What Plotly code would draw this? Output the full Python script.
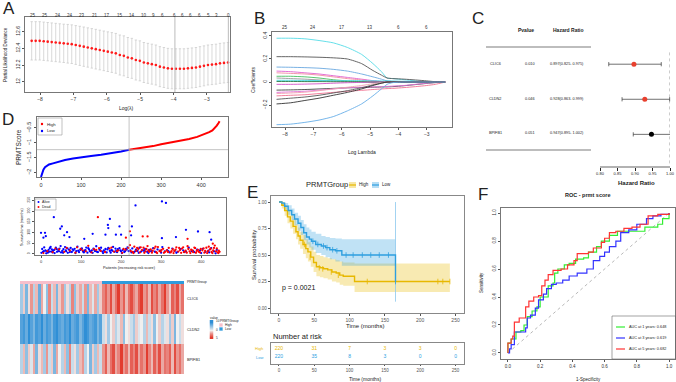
import plotly.graph_objects as go

# ======================= DATA =======================
# ---- A: cross-validation curve ----
cv_loglambda = [-8.25,-8.13,-8.01,-7.89,-7.77,-7.65,-7.53,-7.41,-7.29,-7.17,-7.05,-6.93,-6.81,-6.69,-6.57,
                -6.45,-6.33,-6.21,-6.09,-5.97,-5.85,-5.73,-5.61,-5.49,-5.37,-5.25,-5.13,-5.01,-4.89,-4.77,
                -4.65,-4.53,-4.41,-4.29,-4.17,-4.05,-3.93,-3.81,-3.69,-3.57,-3.45,-3.33,-3.21,-3.09,-2.97,
                -2.85,-2.73,-2.61,-2.49,-2.37]
cv_deviance = [12.49,12.49,12.49,12.485,12.48,12.475,12.47,12.465,12.46,12.455,12.45,12.44,12.43,12.42,12.41,
               12.40,12.39,12.38,12.37,12.36,12.35,12.34,12.32,12.31,12.29,12.28,12.26,12.25,12.23,12.22,
               12.21,12.20,12.18,12.17,12.16,12.155,12.155,12.155,12.155,12.16,12.165,12.17,12.18,12.19,12.20,
               12.205,12.21,12.22,12.225,12.23]
cv_se = [0.23,0.23,0.23,0.23,0.23,0.23,0.23,0.23,0.23,0.232,0.232,0.233,0.235,0.236,0.236,
         0.237,0.238,0.238,0.238,0.238,0.239,0.239,0.24,0.24,0.24,0.24,0.24,0.24,0.24,0.24,
         0.24,0.24,0.24,0.24,0.24,0.24,0.24,0.24,0.24,0.24,0.24,0.24,0.24,0.24,0.24,
         0.24,0.24,0.24,0.24,0.24]
cv_top_pos = [-8.22,-7.85,-7.47,-7.10,-6.73,-6.36,-5.98,-5.60,-5.24,-4.88,-4.61,-4.33,-3.96,-3.73,-3.49,-3.23,-2.96,-2.71,-2.36]
cv_top_count = ["25","25","24","24","23","21","17","15","14","10","9","6","6","6","6","6","5","3","0"]
cv_lambda_min = -3.96
cv_lambda_1se = -2.36

# ---- B: coefficient paths ----
path_loglambda = [-8.3,-7.8,-7.3,-6.8,-6.3,-5.8,-5.3,-4.9,-4.6,-4.4,-4.2,-3.8,-3.4,-3.0,-2.7,-2.35]
path_cyan_top   = [0.38,0.38,0.375,0.36,0.34,0.30,0.24,0.16,0.09,0.035,0.03,0.02,0.01,0.0,0.0,0.0]
path_black_top  = [0.22,0.22,0.218,0.215,0.21,0.20,0.16,0.10,0.06,0.035,0.03,0.025,0.018,0.01,0.003,0.0]
path_blue_top   = [0.13,0.128,0.125,0.12,0.11,0.095,0.07,0.045,0.025,0.01,0.005,0.0,0.0,0.0,0.0,0.0]
path_magenta1   = [0.095,0.09,0.08,0.07,0.055,0.04,0.025,0.012,0.004,0.0,0.0,0.0,0.0,0.0,0.0,0.0]
path_pink1      = [0.08,0.075,0.07,0.06,0.045,0.03,0.018,0.008,0.002,0.0,0.0,0.0,0.0,0.0,0.0,0.0]
path_green      = [0.05,0.05,0.045,0.035,0.02,0.01,0.004,0.0,0.0,0.0,0.0,0.0,0.0,0.0,0.0,0.0]
path_gray1      = [0.035,0.03,0.025,0.018,0.01,0.005,0.001,0.0,0.0,0.0,0.0,0.0,0.0,0.0,0.0,0.0]
path_cyan2      = [0.015,0.015,0.014,0.013,0.012,0.012,0.012,0.011,0.01,0.01,0.009,0.006,0.004,0.002,0.0,0.0]
path_dkgreen    = [0.005,0.005,0.004,0.004,0.003,0.002,0.001,0.0,0.0,0.0,0.0,0.0,0.0,0.0,0.0,0.0]
path_magenta2   = [-0.02,-0.02,-0.018,-0.015,-0.01,-0.006,-0.003,0.0,0.0,0.0,0.0,0.0,0.0,0.0,0.0,0.0]
path_black2     = [-0.07,-0.068,-0.065,-0.06,-0.055,-0.05,-0.048,-0.045,-0.043,-0.042,-0.04,-0.032,-0.022,-0.012,-0.005,0.0]
path_magenta3   = [-0.09,-0.085,-0.08,-0.07,-0.06,-0.05,-0.045,-0.042,-0.04,-0.038,-0.035,-0.03,-0.02,-0.01,-0.004,0.0]
path_pink2      = [-0.12,-0.115,-0.11,-0.10,-0.09,-0.08,-0.072,-0.065,-0.06,-0.057,-0.055,-0.048,-0.04,-0.03,-0.02,0.0]
path_pink3      = [-0.10,-0.095,-0.088,-0.075,-0.06,-0.045,-0.03,-0.015,-0.005,0.0,0.0,0.0,0.0,0.0,0.0,0.0]
path_black3     = [-0.15,-0.14,-0.13,-0.115,-0.095,-0.075,-0.05,-0.025,-0.01,0.0,0.0,0.0,0.0,0.0,0.0,0.0]
path_black4     = [-0.19,-0.18,-0.16,-0.14,-0.115,-0.09,-0.06,-0.03,-0.01,0.0,0.0,0.0,0.0,0.0,0.0,0.0]
path_blue_bot   = [-0.37,-0.365,-0.35,-0.33,-0.30,-0.25,-0.19,-0.12,-0.06,-0.02,-0.005,0.0,0.0,0.0,0.0,0.0]
path_top_pos = [-8, -7, -6, -5, -4, -3]
path_top_count = ["25", "24", "17", "13", "6", "6"]

# ---- C: forest plot ----
genes = ["CLIC6", "CLDN2", "BPIFB1"]
gene_pvalue = ["0.010", "0.046", "0.051"]
gene_hr = [0.897, 0.928, 0.947]
gene_hr_low = [0.825, 0.863, 0.895]
gene_hr_high = [0.975, 0.999, 1.002]

# ---- D: risk score curve ----
risk_idx = [0,3,6,10,15,20,30,40,50,60,80,100,125,150,175,200,220,250,280,300,330,350,370,390,400,410,420,428,434,439,443,446]
risk_score = [-2.15,-2.0,-1.9,-1.82,-1.77,-1.73,-1.69,-1.65,-1.62,-1.58,-1.53,-1.48,-1.44,-1.4,-1.35,-1.29,-1.23,
              -1.18,-1.11,-1.05,-0.98,-0.93,-0.87,-0.80,-0.75,-0.70,-0.64,-0.58,-0.50,-0.42,-0.34,-0.27]
risk_cut_idx = 220
risk_cut_score = -1.23

# ---- D: survival status scatter (patient index, months) ----
alive_pts = [(3,22),(5,8),(8,30),(11,15),(14,12),(17,5),(19,18),(22,26),(25,10),(27,20),
    (30,14),(34,3),(37,28),(40,9),(43,17),(46,24),(50,6),(53,13),(56,21),(60,31),
    (63,11),(67,4),(70,19),(74,27),(77,8),(81,16),(84,23),(88,12),(91,33),(95,7),
    (98,18),(102,25),(105,10),(109,14),(113,29),(116,5),(120,20),(124,9),(127,16),(131,24),
    (135,12),(138,35),(142,7),(146,19),(150,28),(153,10),(157,15),(161,22),(164,6),(168,27),
    (172,13),(176,18),(180,32),(184,9),(188,14),(192,21),(196,26),(200,11),(204,17),(208,8),
    (212,23),(216,30),(219,12),(223,16),(228,25),(232,7),(237,19),(241,13),(246,28),(250,10),
    (255,15),(260,22),(265,9),(270,18),(275,12),(280,26),(286,8),(291,20),(297,14),(303,31),
    (309,11),(315,17),(321,6),(328,24),(334,13),(341,9),(348,21),(355,16),(362,10),(369,28),
    (376,12),(383,7),(390,19),(397,15),(404,23),(411,9),(418,14),(425,26),(432,11),(439,18),
    (1,4),(7,12),(13,2),(20,9),(24,32),(29,6),(33,18),(39,22),(45,11),(49,36),(55,4),(62,15),
    (66,25),(72,8),(79,20),(86,3),(93,14),(100,21),(107,6),(111,17),(118,26),(122,12),(129,4),
    (133,19),(140,9),(148,15),(155,3),(159,11),(166,20),(174,5),(178,14),(186,24),(190,7),
    (198,16),(202,3),(210,12),(214,19),(226,6),(235,11),(244,4),(258,14),(268,3),(284,10),
    (300,5),(318,12),(338,4),(358,8),(380,13),(400,3),(420,6),(436,2),
    (0,98),(10,98),(6,75),(12,82),(32,171),(48,117),(52,128),(58,86),(65,101),(71,78),
    (108,70),(129,93),(168,120),(172,163),(167,135),(161,89),(196,128),(187,89),(200,89),
    (227,128),(225,86),(236,226),(302,245),(312,238),(362,112),(392,104),(421,101),(425,66),
    (302,73),(337,78)]
dead_pts = [(6,3),(16,12),(29,7),(45,20),(58,9),(72,15),(86,5),(99,22),(112,11),(126,6),
    (138,18),(149,13),(160,8),(171,24),(182,10),(193,16),(203,4),(211,19),(218,27),(224,12),
    (229,8),(233,33),(238,14),(243,22),(247,6),(252,17),(256,28),(261,11),(266,36),(270,9),
    (274,20),(279,14),(283,25),(288,7),(292,31),(296,12),(301,18),(305,23),(310,9),(314,15),
    (319,27),(324,6),(329,21),(333,13),(338,30),(343,10),(347,17),(352,24),(357,8),(361,14),
    (366,35),(371,11),(375,19),(380,7),(385,26),(389,13),(394,9),(399,22),(403,16),(408,5),
    (413,28),(417,12),(422,20),(426,8),(430,15),(434,38),(437,11),(441,6),(444,14),
    (36,24),(64,27),(90,30),(104,16),(118,37),(132,21),(145,26),(176,29),(190,12),(206,22),
    (222,40),(231,3),(240,27),(249,30),(258,4),(263,22),(268,15),(277,5),(286,33),(290,3),
    (299,10),(307,4),(317,8),(326,12),(331,3),(336,19),(345,27),(350,4),(355,30),(364,5),
    (368,22),(373,3),(378,15),(383,29),(387,4),(392,18),(397,6),(406,25),(410,13),(415,3),
    (419,33),(424,24),(428,3),(432,27),(439,25),(443,3),(446,9),
    (142,171),(212,75),(254,81),(266,81),(366,70),(429,47),(222,105)]

# ---- D: heatmap (scaled expression; 32 High columns then 32 Low columns) ----
heat_genes = ["CLIC6", "CLDN2", "BPIFB1"]
heat_group = ["High"] * 32 + ["Low"] * 32
heat_clic6 = [-0.4,0.2,-0.6,0.1,0.5,-0.3,0.3,-0.7,0.4,0.0,-0.5,0.6,-0.2,0.3,-0.6,0.2,0.5,-0.4,0.1,-0.3,0.6,-0.5,0.2,0.4,-0.2,0.5,-0.6,0.3,-0.1,0.4,-0.4,0.2,
              0.6,0.8,0.5,0.9,0.4,0.7,1.0,0.5,0.8,0.3,0.7,0.9,0.6,0.4,0.8,1.0,0.5,0.7,0.3,0.9,0.6,0.8,0.4,0.7,1.0,0.5,0.2,0.8,0.6,0.9,0.4,0.7]
heat_cldn2 = [-0.8,-0.9,-0.7,-1.0,-0.8,-0.6,-0.9,-0.8,-1.0,-0.7,-0.9,-0.8,-0.6,-0.9,-1.0,-0.8,-0.7,-0.9,-0.8,-1.0,-0.7,-0.8,-0.9,-0.6,-0.8,-1.0,-0.9,-0.7,-0.8,-0.9,-0.6,-0.8,
              -0.2,0.1,-0.4,0.0,0.2,-0.3,-0.1,0.3,-0.5,0.0,0.1,-0.2,-0.4,0.2,-0.1,0.0,-0.3,0.3,-0.2,0.1,-0.5,0.0,0.2,-0.3,-0.1,0.1,-0.4,0.2,-0.6,0.0,-0.2,0.1]
heat_bpifb1 = [-0.3,0.3,-0.5,0.2,-0.1,0.4,-0.6,0.1,0.3,-0.4,0.5,-0.2,0.2,-0.6,0.4,0.0,-0.3,0.3,-0.5,0.6,-0.2,0.1,-0.4,0.3,0.5,-0.3,0.0,-0.6,0.2,-0.4,0.3,-0.2,
               0.5,0.8,0.3,0.7,0.9,0.4,0.6,1.0,0.5,0.7,0.3,0.8,0.6,0.9,0.4,0.7,0.5,1.0,0.6,0.3,0.8,0.5,0.9,0.4,0.7,0.6,0.8,0.3,0.9,0.5,0.7,0.4]

# ---- E: Kaplan-Meier ----
km_high_t = [0,4,8,12,16,20,24,27,30,34,38,41,45,49,53,58,63,69,75,81,86,91,107,242]
km_high_s = [1.0,0.97,0.92,0.86,0.82,0.77,0.72,0.68,0.64,0.6,0.56,0.53,0.48,0.43,0.39,0.38,0.37,0.36,0.34,0.33,0.31,0.30,0.25,0.25]
km_high_up = [1.0,1.0,0.97,0.92,0.88,0.84,0.79,0.76,0.72,0.69,0.65,0.62,0.58,0.53,0.50,0.49,0.48,0.47,0.46,0.45,0.44,0.43,0.42,0.42]
km_high_lo = [1.0,0.94,0.87,0.80,0.75,0.70,0.65,0.60,0.56,0.51,0.47,0.44,0.39,0.34,0.30,0.29,0.28,0.27,0.25,0.24,0.22,0.21,0.15,0.15]
km_low_t = [0,4,8,13,18,22,27,31,35,39,43,46,52,60,66,72,80,89,165]
km_low_s = [1.0,0.99,0.96,0.92,0.88,0.84,0.80,0.76,0.71,0.67,0.65,0.63,0.60,0.585,0.57,0.55,0.54,0.50,0.25]
km_low_up = [1.0,1.0,0.99,0.97,0.94,0.90,0.87,0.83,0.79,0.76,0.74,0.72,0.70,0.68,0.67,0.66,0.655,0.65,0.65]
km_low_lo = [1.0,0.97,0.93,0.88,0.83,0.78,0.73,0.69,0.64,0.60,0.57,0.55,0.52,0.50,0.48,0.46,0.44,0.40,0.40]
cens_high_t = [36, 44, 57, 62, 74, 84, 125, 225, 232, 242]
cens_high_s = [0.60, 0.48, 0.38, 0.37, 0.34, 0.31, 0.25, 0.25, 0.25, 0.25]
cens_low_t = [48, 55, 63, 68, 76, 82, 95, 105, 118, 130, 142, 155, 165]
cens_low_s = [0.63, 0.60, 0.585, 0.57, 0.55, 0.54, 0.50, 0.50, 0.50, 0.50, 0.50, 0.50, 0.25]
km_pvalue = "p = 0.0021"
risk_times = [0, 50, 100, 150, 200, 250]
risk_high = [220, 31, 7, 3, 3, 0]
risk_low = [220, 35, 8, 3, 0, 0]

# ---- F: ROC ----
roc1_fpr = [0,0,0.02,0.05,0.08,0.10,0.12,0.15,0.18,0.20,0.25,0.28,0.29,0.31,0.35,0.38,0.42,0.47,0.50,0.55,0.58,0.63,0.68,0.78,0.85,0.93,0.96,1.0]
roc1_tpr = [0,0.07,0.10,0.15,0.16,0.20,0.26,0.30,0.33,0.40,0.48,0.50,0.57,0.60,0.63,0.64,0.67,0.68,0.72,0.76,0.80,0.84,0.87,0.87,0.90,0.92,0.96,1.0]
roc3_fpr = [0,0.01,0.02,0.04,0.08,0.11,0.12,0.14,0.17,0.19,0.22,0.24,0.27,0.30,0.34,0.38,0.43,0.49,0.53,0.57,0.60,0.63,0.67,0.70,0.75,0.80,0.86,0.90,0.95,1.0]
roc3_tpr = [0,0.03,0.06,0.15,0.15,0.18,0.25,0.27,0.32,0.38,0.42,0.46,0.49,0.50,0.52,0.55,0.57,0.60,0.66,0.69,0.72,0.76,0.80,0.86,0.88,0.92,0.96,0.98,0.99,1.0]
roc5_fpr = [0,0,0.02,0.03,0.04,0.07,0.10,0.11,0.13,0.16,0.19,0.21,0.23,0.25,0.28,0.33,0.37,0.41,0.43,0.50,0.53,0.58,0.60,0.63,0.67,0.72,0.77,0.82,0.87,0.93,1.0]
roc5_tpr = [0,0.07,0.10,0.12,0.22,0.25,0.25,0.33,0.37,0.40,0.41,0.48,0.52,0.56,0.59,0.60,0.63,0.66,0.71,0.72,0.75,0.79,0.82,0.86,0.87,0.89,0.90,0.92,0.98,0.99,1.0]
roc_labels = ["AUC at 1 years: 0.648", "AUC at 3 years: 0.619", "AUC at 5 years: 0.682"]

# ======================= FIGURE =======================
W, H = 676, 382
FONT = "Liberation Sans, Arial, sans-serif"

def xd(a, b): return [a / W, b / W]
def yd(top, bot): return [1 - bot / H, 1 - top / H]
def PX(x): return x / W
def PY(y): return 1 - y / H

def raxis(dom, rng, anchor, tickvals=None, ticktext=None, angle=0, lc="#777", size=5, tc="#333", ticklen=2.5):
    d = dict(domain=dom, range=rng, anchor=anchor, showline=True, mirror=True, linecolor=lc, linewidth=0.8,
             ticks="outside", ticklen=ticklen, tickwidth=0.6, tickcolor="#555", tickvals=tickvals,
             tickangle=angle, tickfont=dict(size=size, color=tc, family=FONT), showgrid=False, zeroline=False,
             automargin=False)
    if ticktext is not None:
        d["ticktext"] = ticktext
    return d

def hidden(dom, rng, anchor):
    return dict(domain=dom, range=rng, anchor=anchor, visible=False, showgrid=False, zeroline=False)

annotations, shapes = [], []
def ann(x, y, text, size=5, color="#222", xa="center", ya="middle", angle=0, bold=False):
    annotations.append(dict(x=PX(x), y=PY(y), xref="paper", yref="paper", text=("<b>%s</b>" % text) if bold else text,
                            showarrow=False, font=dict(size=size, color=color, family=FONT), xanchor=xa, yanchor=ya,
                            textangle=angle, borderpad=0))
def pline(x0, y0, x1, y1, color="#333", width=0.8, dash=None):
    ln = dict(color=color, width=width)
    if dash:
        ln["dash"] = dash
    shapes.append(dict(type="line", xref="paper", yref="paper", x0=PX(x0), y0=PY(y0), x1=PX(x1), y1=PY(y1), line=ln))
def prect(x0, y0, x1, y1, line="#777", fill="rgba(0,0,0,0)", width=0.6):
    shapes.append(dict(type="rect", xref="paper", yref="paper", x0=PX(x0), y0=PY(y1), x1=PX(x1), y1=PY(y0),
                       line=dict(color=line, width=width), fillcolor=fill))
def pdot(x, y, r, color):
    shapes.append(dict(type="circle", xref="paper", yref="paper", x0=PX(x - r), x1=PX(x + r), y0=PY(y + r), y1=PY(y - r),
                       line=dict(width=0), fillcolor=color))

fig = go.Figure()

# ---------- A ----------
fig.add_trace(go.Scatter(x=cv_loglambda, y=cv_deviance, mode="markers", xaxis="x", yaxis="y",
                         marker=dict(color="#ff1a1a", size=2.6),
                         error_y=dict(type="data", array=cv_se, color="#c8c8c8", thickness=0.7, width=1.2)))
for xv in (cv_lambda_min, cv_lambda_1se):
    shapes.append(dict(type="line", xref="x", yref="y domain", x0=xv, x1=xv, y0=0, y1=1, line=dict(color="#bbb", width=1)))
for p, c in zip(cv_top_pos, cv_top_count):
    annotations.append(dict(x=p, y=PY(11), xref="x", yref="paper", text=c, showarrow=False,
                            font=dict(size=4.5, color="#333", family=FONT)))
ann(127, 108, "Log(λ)", 5)
ann(5, 55, "Partial Likelihood Deviance", 4.5, angle=-90)
ann(9, 9, "A", 17)

# ---------- B ----------
path_lines = [
    (path_cyan_top, "#55dbe6"), (path_black_top, "#555555"), (path_blue_top, "#6aa8e0"),
    (path_magenta1, "#e060d0"), (path_pink1, "#f08aa0"), (path_green, "#44c060"), (path_gray1, "#999999"),
    (path_cyan2, "#44d8e0"), (path_dkgreen, "#227744"), (path_magenta2, "#d050c8"), (path_black2, "#444444"),
    (path_magenta3, "#e070d8"), (path_pink2, "#f07090"), (path_pink3, "#f0a0b0"), (path_black3, "#555555"),
    (path_black4, "#333333"), (path_blue_bot, "#66aee8")]
for vals, col in path_lines:
    fig.add_trace(go.Scatter(x=path_loglambda, y=vals, mode="lines", xaxis="x2", yaxis="y2",
                             line=dict(color=col, width=0.9, shape="spline", smoothing=0.6)))
for p, c in zip(path_top_pos, path_top_count):
    annotations.append(dict(x=p, y=PY(23), xref="x2", yref="paper", text=c, showarrow=False,
                            font=dict(size=4.5, color="#333", family=FONT)))
ann(362, 152, "Log Lambda", 5)
ann(253, 80, "Coefficients", 5, angle=-90)
ann(259, 19, "B", 17)

# ---------- C ----------
ann(478, 19, "C", 17)
ann(526, 30, "Pvalue", 5, bold=True)
ann(568, 30, "Hazard Ratio", 5, bold=True)
pline(486, 47, 591, 47, "#444", 0.7)
pline(486, 150, 591, 150, "#444", 0.7)
row_y = [64, 99, 133]
for g, pv, h, lo, hi, yy in zip(genes, gene_pvalue, gene_hr, gene_hr_low, gene_hr_high, row_y):
    ann(495, yy, g, 3.8)
    ann(530, yy, pv, 3.8)
    ann(567, yy, "%.3f(%.3f- %.3f)" % (h, lo, hi), 3.8)
forest_y = [3, 2, 1]
forest_col = ["#e8402e" if float(p) < 0.05 else "#000000" for p in gene_pvalue]
for h, lo, hi, yy, col in zip(gene_hr, gene_hr_low, gene_hr_high, forest_y, forest_col):
    fig.add_trace(go.Scatter(x=[lo, hi], y=[yy, yy], mode="lines", xaxis="x3", yaxis="y3",
                             line=dict(color="#333", width=0.7), cliponaxis=False))
    fig.add_trace(go.Scatter(x=[lo, hi], y=[yy, yy], mode="markers", xaxis="x3", yaxis="y3",
                             marker=dict(symbol="line-ns", size=3, line=dict(color="#333", width=0.7)), cliponaxis=False))
    fig.add_trace(go.Scatter(x=[h], y=[yy], mode="markers", xaxis="x3", yaxis="y3",
                             marker=dict(color=col, size=5), cliponaxis=False))
shapes.append(dict(type="line", xref="x3", yref="y3 domain", x0=1.0, x1=1.0, y0=0.03, y1=0.97,
                   line=dict(color="#555", width=0.6, dash="dot")))
shapes.append(dict(type="line", xref="x3", yref="y3 domain", x0=0.8, x1=1.0, y0=0, y1=0,
                   line=dict(color="#222", width=0.7)))
ann(636, 183, "Hazard Ratio", 6, bold=True)

# ---------- D top: risk score ----------
lo_i = [i for i, v in zip(risk_idx, risk_score) if i <= risk_cut_idx]
lo_v = [v for i, v in zip(risk_idx, risk_score) if i <= risk_cut_idx]
hi_i = [i for i, v in zip(risk_idx, risk_score) if i >= risk_cut_idx]
hi_v = [v for i, v in zip(risk_idx, risk_score) if i >= risk_cut_idx]
fig.add_trace(go.Scatter(x=lo_i, y=lo_v, mode="lines", xaxis="x4", yaxis="y4", line=dict(color="#0000ff", width=2)))
fig.add_trace(go.Scatter(x=hi_i, y=hi_v, mode="lines", xaxis="x4", yaxis="y4", line=dict(color="#ff0000", width=2)))
shapes.append(dict(type="line", xref="x4", yref="y4 domain", x0=risk_cut_idx, x1=risk_cut_idx, y0=0, y1=1,
                   line=dict(color="#aaa", width=0.7)))
shapes.append(dict(type="line", xref="x4 domain", yref="y4", x0=0, x1=1, y0=risk_cut_score, y1=risk_cut_score,
                   line=dict(color="#aaa", width=0.7)))
ann(8, 119, "D", 17)
ann(18, 147, "PRMTScore", 6.5, angle=-90)
prect(38, 118, 62, 135, "#999")
pdot(42, 124, 1.2, "#ff0000"); ann(46, 124, "High", 4.2, xa="left")
pdot(42, 131, 1.2, "#0000ff"); ann(46, 131, "Low", 4.2, xa="left")

# ---------- D middle: status scatter ----------
fig.add_trace(go.Scatter(x=[p[0] for p in alive_pts], y=[p[1] for p in alive_pts], mode="markers",
                         xaxis="x5", yaxis="y5", marker=dict(color="#0000ff", size=2.3)))
fig.add_trace(go.Scatter(x=[p[0] for p in dead_pts], y=[p[1] for p in dead_pts], mode="markers",
                         xaxis="x5", yaxis="y5", marker=dict(color="#ff0000", size=2.3)))
shapes.append(dict(type="line", xref="x5", yref="y5 domain", x0=risk_cut_idx, x1=risk_cut_idx, y0=0, y1=1,
                   line=dict(color="#aaa", width=0.7)))
prect(35, 199, 56, 210, "#999")
pdot(38.5, 202, 1, "#0000ff"); ann(41, 202, "Alive", 3.6, xa="left")
pdot(38.5, 207, 1, "#ff0000"); ann(41, 207, "Dead", 3.6, xa="left")
ann(22, 227, "Survival time (months)", 3.8, angle=-90)
ann(129, 268, "Patients (increasing risk score)", 3.8)

# ---------- D bottom: heatmap ----------
heat_z = [heat_clic6, heat_cldn2, heat_bpifb1]
ncol = len(heat_group)
fig.add_trace(go.Heatmap(z=heat_z, x=list(range(ncol)), y=[0, 1, 2], xaxis="x6", yaxis="y6", zmin=-1, zmax=1,
                         colorscale=[[0, "#2f8fd6"], [0.5, "#f0f0f0"], [1, "#e23c30"]], showscale=False))
group_code = [0 if g == "High" else 1 for g in heat_group]
fig.add_trace(go.Heatmap(z=[group_code], x=list(range(ncol)), y=[0], xaxis="x7", yaxis="y7", zmin=0, zmax=1,
                         colorscale=[[0, "#f7bfcb"], [0.5, "#f7bfcb"], [0.5, "#2f9bdc"], [1, "#2f9bdc"]],
                         showscale=False))
# small colour key drawn as a vertical gradient
key_vals = [[1.0], [0.5], [0.0], [-0.5], [-1.0]]
fig.add_trace(go.Heatmap(z=key_vals, x=[0], y=[0, 1, 2, 3, 4], xaxis="x11", yaxis="y11", zmin=-1, zmax=1,
                         colorscale=[[0, "#2f8fd6"], [0.5, "#f0f0f0"], [1, "#e23c30"]], showscale=False,
                         zsmooth="best"))
ann(209, 318, "value", 3.3, xa="left")
ann(214.5, 321, "10", 3.0, xa="left")
ann(214.5, 330, "0", 3.0, xa="left")
ann(214.5, 338, "5", 3.0, xa="left")
ann(186, 282, "PRMTGroup", 3.5, xa="left")
for g, yy in zip(heat_genes, [299, 330, 360]):
    ann(186, yy, g, 3.8, xa="left")
ann(219, 321, "PRMTGroup", 3.3, xa="left")
prect(219.5, 323.5, 222.5, 326.5, "#f7bfcb", "#f7bfcb", 0.3); ann(224, 325, "High", 3.3, xa="left")
prect(219.5, 327.5, 222.5, 330.5, "#2f9bdc", "#2f9bdc", 0.3); ann(224, 329, "Low", 3.3, xa="left")

# ---------- E: KM ----------
HIGH_C, LOW_C = "#E7B800", "#2E9FDF"
for t, up, lo, col in ((km_high_t, km_high_up, km_high_lo, "rgba(231,184,0,0.3)"),
                       (km_low_t, km_low_up, km_low_lo, "rgba(46,159,223,0.3)")):
    fig.add_trace(go.Scatter(x=t, y=up, mode="lines", xaxis="x8", yaxis="y8", line=dict(width=0, shape="hv"),
                             hoverinfo="skip"))
    fig.add_trace(go.Scatter(x=t, y=lo, mode="lines", xaxis="x8", yaxis="y8", line=dict(width=0, shape="hv"),
                             fill="tonexty", fillcolor=col, hoverinfo="skip"))
fig.add_trace(go.Scatter(x=[165, 165], y=[0.06, 1.0], mode="lines", xaxis="x8", yaxis="y8",
                         line=dict(color="#8cc8ee", width=0.8)))
fig.add_trace(go.Scatter(x=km_high_t, y=km_high_s, mode="lines", xaxis="x8", yaxis="y8",
                         line=dict(color=HIGH_C, width=1.4, shape="hv")))
fig.add_trace(go.Scatter(x=km_low_t, y=km_low_s, mode="lines", xaxis="x8", yaxis="y8",
                         line=dict(color=LOW_C, width=1.4, shape="hv")))
fig.add_trace(go.Scatter(x=cens_high_t, y=cens_high_s, mode="markers", xaxis="x8", yaxis="y8",
                         marker=dict(symbol="line-ns", size=4, line=dict(color=HIGH_C, width=0.8))))
fig.add_trace(go.Scatter(x=cens_low_t, y=cens_low_s, mode="markers", xaxis="x8", yaxis="y8",
                         marker=dict(symbol="line-ns", size=4, line=dict(color=LOW_C, width=0.8))))
ann(252, 193, "E", 17)
ann(327, 185, "PRMTGroup", 7.5, color="#222")
prect(349, 182, 356, 188, "rgba(0,0,0,0)", "rgba(231,184,0,0.35)", 0)
pline(349, 185, 356, 185, HIGH_C, 1.2)
ann(358, 185, "High", 4.5, xa="left")
prect(372, 182, 379, 188, "rgba(0,0,0,0)", "rgba(46,159,223,0.35)", 0)
pline(372, 185, 379, 185, LOW_C, 1.2)
ann(381, 185, "Low", 4.5, xa="left")
ann(298, 288, km_pvalue, 7, color="#111")
ann(254, 255, "Survival probability", 6, angle=-90)
ann(365, 326, "Time (months)", 6)
ann(272, 336, "Number at risk", 7.5, xa="left")
fig.add_trace(go.Scatter(x=risk_times, y=[2] * len(risk_times), text=[str(v) for v in risk_high], mode="text",
                         xaxis="x9", yaxis="y9", textfont=dict(size=5, color=HIGH_C, family=FONT)))
fig.add_trace(go.Scatter(x=risk_times, y=[1] * len(risk_times), text=[str(v) for v in risk_low], mode="text",
                         xaxis="x9", yaxis="y9", textfont=dict(size=5, color=LOW_C, family=FONT)))
ann(264, 348, "High", 4, color=HIGH_C, xa="right")
ann(264, 357, "Low", 4, color=LOW_C, xa="right")
ann(365, 378.5, "Time (months)", 5)

# ---------- F: ROC ----------
fig.add_trace(go.Scatter(x=[0, 1], y=[0, 1], mode="lines", xaxis="x10", yaxis="y10",
                         line=dict(color="#999", width=0.7, dash="dot")))
for fpr, tpr, col in ((roc1_fpr, roc1_tpr, "#33ee33"), (roc3_fpr, roc3_tpr, "#3333ff"), (roc5_fpr, roc5_tpr, "#ff3333")):
    fig.add_trace(go.Scatter(x=fpr, y=tpr, mode="lines", xaxis="x10", yaxis="y10",
                             line=dict(color=col, width=1.2, shape="hv")))
ann(483, 194, "F", 17)
ann(588, 195, "ROC - prmt score", 5.5, bold=True)
ann(481, 283, "Sensitivity", 4.5, angle=-90)
ann(588, 379, "1-Specificity", 4.5)
prect(612, 316, 675.5, 359, "#666")
for lab, col, yy in zip(roc_labels, ["#33ee33", "#3333ff", "#ff3333"], [327, 338, 349]):
    pline(616, yy, 625, yy, col, 1.2)
    ann(628, yy, lab, 3.8, xa="left")

# ======================= AXES =======================
layout_axes = dict(
    xaxis=raxis(xd(25, 230), [-8.45, -2.31], "y", tickvals=[-8, -7, -6, -5, -4, -3]),
    yaxis=raxis(yd(17, 92), [11.876, 12.776], "x", tickvals=[12.0, 12.2, 12.4, 12.6], angle=-90),
    xaxis2=raxis(xd(272, 452), [-8.46, -2.11], "y2", tickvals=[-8, -7, -6, -5, -4, -3]),
    yaxis2=raxis(yd(32, 127), [-0.39, 0.434], "x2", tickvals=[-0.2, 0.0, 0.2, 0.4], angle=-90),
    xaxis3=dict(domain=xd(600, 670), range=[0.8, 1.0], anchor="y3", showline=False, ticks="outside", ticklen=2.5,
                tickwidth=0.6, tickcolor="#222", tickvals=[0.8, 0.85, 0.9, 0.95, 1.0],
                ticktext=["0.80", "0.85", "0.90", "0.95", "1.00"], tickfont=dict(size=4, color="#222", family=FONT),
                showgrid=False, zeroline=False, automargin=False),
    yaxis3=hidden(yd(47, 167), [0.07, 3.49], "x3"),
    xaxis4=raxis(xd(37, 228), [-10, 467], "y4", tickvals=[0, 100, 200, 300, 400], size=5.5),
    yaxis4=raxis(yd(117, 177), [-2.15, -0.13], "x4", tickvals=[-2.0, -1.5, -1.0, -0.5], angle=-90, size=5.5),
    xaxis5=raxis(xd(35, 226), [-15, 462], "y5", tickvals=[0, 100, 200, 300, 400], size=4),
    yaxis5=raxis(yd(198, 255), [-6, 261], "x5", tickvals=[0, 50, 100, 150, 200, 250], angle=-90, size=3.5),
    xaxis6=hidden(xd(20, 184), [-0.5, ncol - 0.5], "y6"),
    yaxis6=hidden(yd(284, 374), [2.5, -0.5], "x6"),
    xaxis7=hidden(xd(20, 184), [-0.5, ncol - 0.5], "y7"),
    yaxis7=hidden(yd(281, 284), [-0.5, 0.5], "x7"),
    xaxis8=raxis(xd(271, 464), [-11.3, 262], "y8", tickvals=[0, 50, 100, 150, 200, 250], lc="#888", size=5, tc="#555"),
    yaxis8=raxis(yd(196, 313), [-0.047, 1.057], "x8", tickvals=[0, 0.25, 0.5, 0.75, 1.0],
                 ticktext=["0.00", "0.25", "0.50", "0.75", "1.00"], lc="#888", size=4.5, tc="#555"),
    xaxis9=raxis(xd(271, 464), [-11.3, 262], "y9", tickvals=[0, 50, 100, 150, 200, 250], lc="#888", size=4.5,
                 tc="#555", ticklen=1.5),
    yaxis9=dict(domain=yd(343, 364), range=[0.2, 2.6], anchor="x9", showline=True, mirror=True, linecolor="#888",
                linewidth=0.8, showticklabels=False, ticks="", showgrid=False, zeroline=False, automargin=False),
    xaxis10=raxis(xd(501, 675), [-0.043, 1.037], "y10", tickvals=[0, 0.2, 0.4, 0.6, 0.8, 1.0],
                  ticktext=["0.0", "0.2", "0.4", "0.6", "0.8", "1.0"], size=4.5),
    yaxis10=raxis(yd(208, 359), [-0.043, 1.036], "x10", tickvals=[0, 0.2, 0.4, 0.6, 0.8, 1.0],
                  ticktext=["0.0", "0.2", "0.4", "0.6", "0.8", "1.0"], angle=-90, size=4.5),
    xaxis11=hidden(xd(209.5, 213.5), [-0.5, 0.5], "y11"),
    yaxis11=hidden(yd(320, 339), [-0.5, 4.5], "x11"),
)

fig.update_layout(width=W, height=H, margin=dict(l=0, r=0, t=0, b=0, pad=0, autoexpand=False),
                  paper_bgcolor="white", plot_bgcolor="rgba(0,0,0,0)", showlegend=False, font=dict(family=FONT),
                  annotations=annotations, shapes=shapes, **layout_axes)
fig.write_html("out.html")
